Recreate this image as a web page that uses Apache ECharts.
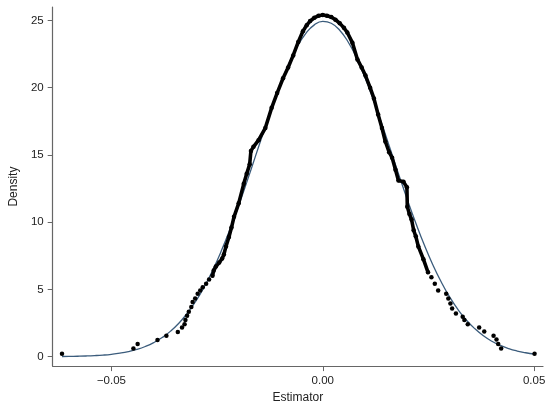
<!DOCTYPE html>
<html>
<head>
<meta charset="utf-8">
<script src="https://cdn.jsdelivr.net/npm/echarts@6/dist/echarts.min.js"></script>
<style>
html,body{margin:0;padding:0;background:#fff;}
#c{width:550px;height:409px;}
</style>
</head>
<body>
<div id="c"></div>
<script>
// Kernel density estimate points (black dots)
var kdeX = [-0.0617,-0.0448,-0.0438,-0.0391,-0.0370,-0.0343,-0.0333,-0.0327,-0.0325,-0.0321,-0.0317,-0.0311,-0.0308,-0.0302,-0.0296,-0.0290,-0.0284,-0.0276,-0.0269,-0.0261,
  -0.0258,-0.0253,-0.0245,-0.0238,-0.0234,-0.0229,-0.0222,-0.0216,-0.0210,-0.0199,-0.0187,-0.0180,-0.0173,-0.0170,-0.0164,-0.0152,-0.0136,-0.0121,-0.0108,-0.0094,
  -0.0082,-0.0070,-0.0058,-0.0047,-0.0038,-0.0030,-0.0020,-0.0010,0.0000,0.0010,0.0020,0.0030,0.0040,0.0050,0.0058,0.0070,0.0082,0.0092,0.0101,0.0112,
  0.0121,0.0131,0.0140,0.0148,0.0157,0.0164,0.0172,0.0179,0.0191,0.0199,0.0200,0.0205,0.0210,0.0215,0.0220,0.0226,0.0238,0.0249,
  0.0257,0.0265,0.0273,0.0292,0.0297,0.0302,0.0306,0.0315,0.0331,0.0335,0.0343,0.0370,0.0382,0.0404,0.0411,0.0415,0.0422,0.0501];
var kdeY = [0.22,0.61,0.95,1.24,1.56,1.83,2.17,2.42,2.73,3.05,3.34,3.70,4.07,4.32,4.68,4.93,5.17,5.42,5.73,6.02,
  6.40,6.70,7.00,7.30,7.60,8.20,8.90,9.60,10.40,11.40,12.85,13.60,14.30,15.30,15.60,16.10,17.00,18.50,19.60,20.70,
  21.50,22.40,23.40,24.20,24.65,24.95,25.20,25.35,25.40,25.35,25.25,25.05,24.80,24.45,24.10,23.35,22.10,21.50,20.90,20.00,
  19.20,18.00,17.00,16.00,15.20,14.80,13.90,13.10,13.00,12.60,11.15,10.60,10.20,9.40,8.95,8.20,7.25,6.27,
  5.90,5.42,4.93,4.68,4.32,3.95,3.59,3.22,2.97,2.73,2.42,2.17,1.87,1.56,1.27,0.95,0.61,0.22];

// Normal density curve (blue line)
var normX = [-0.0617,-0.060,-0.058,-0.056,-0.054,-0.052,-0.050,-0.048,-0.046,-0.044,-0.042,-0.040,-0.038,-0.036,-0.034,-0.032,-0.030,-0.028,-0.026,-0.024,
  -0.022,-0.020,-0.018,-0.016,-0.014,-0.012,-0.010,-0.008,-0.006,-0.004,-0.002,0.000,0.002,0.004,0.006,0.008,0.010,0.012,0.014,0.016,
  0.018,0.020,0.022,0.024,0.026,0.028,0.030,0.032,0.034,0.036,0.038,0.040,0.042,0.044,0.046,0.048,0.050];
var normY = [0.014,0.021,0.033,0.051,0.079,0.119,0.178,0.262,0.379,0.540,0.757,1.045,1.420,1.901,2.505,3.249,4.149,5.218,6.457,7.868,
  9.439,11.146,12.96,14.84,16.72,18.55,20.27,21.79,23.07,24.04,24.67,24.93,24.79,24.27,23.40,22.21,20.74,19.08,17.28,15.40,
  13.52,11.68,9.94,8.32,6.86,5.57,4.45,3.50,2.71,2.07,1.553,1.147,0.835,0.598,0.422,0.293,0.200];

var xTickValues = [-0.05, 0, 0.05];
var xTickLabels = ['\u22120.05', '0.00', '0.05'];
var yTickValues = [0, 5, 10, 15, 20, 25];
var yTickLabels = ['0', '5', '10', '15', '20', '25'];

var kdePts = kdeX.map(function (x, i) { return [x, kdeY[i]]; });
var kdeCentral = kdePts.filter(function (p) { return p[0] >= -0.0262 && p[0] <= 0.0250; });
var normPts = normX.map(function (x, i) { return [x, normY[i]]; });

var FONT = 'Liberation Sans, Arial, Helvetica, sans-serif';
var chart = echarts.init(document.getElementById('c'), null, {renderer: 'canvas'});
chart.setOption({
  animation: false,
  backgroundColor: '#ffffff',
  grid: {left: 46.5, right: 7, top: 7, bottom: 37.3, containLabel: false},
  xAxis: {
    type: 'value', min: -0.0639, max: 0.0521,
    name: 'Estimator', nameLocation: 'middle', nameGap: 23,
    nameTextStyle: {fontFamily: FONT, fontSize: 12, color: '#222'},
    axisLine: {show: true, onZero: false, lineStyle: {color: '#666', width: 1.2}},
    axisTick: {show: true, length: 5, lineStyle: {color: '#666'}, customValues: xTickValues},
    axisLabel: {show: true, margin: 9, fontFamily: FONT, fontSize: 11.5, color: '#222',
      customValues: xTickValues,
      formatter: function (v) { var i = xTickValues.findIndex(function (t) { return Math.abs(t - v) < 1e-9; }); return i >= 0 ? xTickLabels[i] : ''; }},
    splitLine: {show: false}
  },
  yAxis: {
    type: 'value', min: -0.7, max: 26,
    name: 'Density', nameLocation: 'middle', nameGap: 30, nameRotate: 90,
    nameTextStyle: {fontFamily: FONT, fontSize: 12, color: '#222'},
    axisLine: {show: true, onZero: false, lineStyle: {color: '#666', width: 1.2}},
    axisTick: {show: true, length: 5, lineStyle: {color: '#666'}, customValues: yTickValues},
    axisLabel: {show: true, margin: 9, fontFamily: FONT, fontSize: 11.5, color: '#222',
      customValues: yTickValues,
      formatter: function (v) { var i = yTickValues.indexOf(Math.round(v)); return i >= 0 ? yTickLabels[i] : ''; }},
    splitLine: {show: false}
  },
  series: [
    {type: 'line', data: normPts, smooth: true, showSymbol: false, symbol: 'none', silent: true,
      lineStyle: {color: '#3b5c7c', width: 1.3}, z: 2},
    {type: 'line', data: kdeCentral, showSymbol: false, symbol: 'none', silent: true,
      lineStyle: {color: '#000', width: 3.6, join: 'round', cap: 'round'}, z: 3},
    {type: 'scatter', data: kdePts, symbol: 'circle', symbolSize: 4.5,
      itemStyle: {color: '#000', opacity: 1}, z: 4}
  ]
});
</script>
</body>
</html>
